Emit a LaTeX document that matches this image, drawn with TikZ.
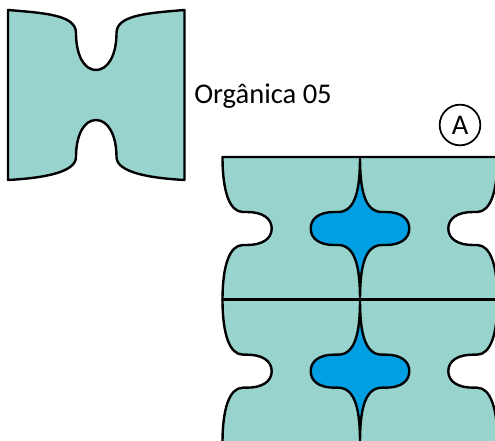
\documentclass[tikz,border=0pt]{standalone}
\usepackage{fontspec}
\setmainfont{Carlito}
\definecolor{teal1}{HTML}{99D3CE}
\definecolor{blue1}{HTML}{009FE3}
\tikzset{
  piece/.style={draw=black,fill=teal1,line width=1.8pt,line join=round},
  star/.style={draw=black,fill=blue1,line width=1.8pt,line join=round},
  seam/.style={draw=black,line width=1.8pt},
  lbl/.style={inner sep=0pt,font=\fontsize{21.4pt}{25pt}\selectfont},
  badge/.style={circle,draw=black,line width=1.3pt,minimum size=30.5pt,inner sep=0pt,font=\fontsize{21.4pt}{25pt}\selectfont}
}
\newcommand{\cell}[1]{%
  \begin{scope}[yshift=#1]
    % teal band with side notches
    \path[piece] (222.5,157) -- (497.5,157)
      .. controls (497.5,190) and (491,212) .. (477,212)
      -- (473,212) .. controls (458,212) and (448.3,218) .. (448.3,228.5)
      .. controls (448.3,239) and (458,245) .. (473,245)
      -- (477,245) .. controls (491,245) and (497.5,267) .. (497.5,300)
      -- (222.5,300)
      .. controls (222.5,267) and (229,245) .. (243,245)
      -- (247,245) .. controls (262,245) and (271.7,239) .. (271.7,228.5)
      .. controls (271.7,218) and (262,212) .. (247,212)
      -- (243,212) .. controls (229,212) and (222.5,190) .. (222.5,157) -- cycle;
    % blue star
    \path[star] (360,157)
      .. controls (360,188) and (364,212) .. (382,212)
      -- (386,212) .. controls (400,212) and (409.3,218) .. (409.3,228.5)
      .. controls (409.3,239) and (400,245) .. (386,245)
      -- (382,245) .. controls (364,245) and (360,269) .. (360,300)
      .. controls (360,269) and (356,245) .. (338,245)
      -- (334,245) .. controls (320,245) and (310.7,239) .. (310.7,228.5)
      .. controls (310.7,218) and (320,212) .. (334,212)
      -- (338,212) .. controls (356,212) and (360,188) .. (360,157) -- cycle;
  \end{scope}}
\begin{document}
\begin{tikzpicture}[x=0.75pt,y=-0.75pt]
\useasboundingbox (0,0) rectangle (495,441);
\clip (0,0) rectangle (495,441);
% single module
\path[piece] (8,10)
  .. controls (45,13) and (76,15) .. (76,33)
  .. controls (76,55) and (84,70) .. (96,70)
  .. controls (108,70) and (116.5,55) .. (116.5,33)
  .. controls (116.5,15) and (148,13) .. (184.5,10)
  -- (184.5,180)
  .. controls (148,178) and (116.5,172) .. (116.5,157)
  .. controls (116.5,135) and (108,120) .. (96,120)
  .. controls (84,120) and (76,135) .. (76,157)
  .. controls (76,172) and (45,178) .. (8,180) -- cycle;
% tiled pattern
\cell{0pt}
\cell{-107pt}
\draw[seam] (222.5,299.5) -- (497.5,299.5);
\node[lbl,anchor=base west] (title) at (194,104) {Orgânica 05};
\node[badge] (a) at (460,125) {A};
\end{tikzpicture}
\end{document}
